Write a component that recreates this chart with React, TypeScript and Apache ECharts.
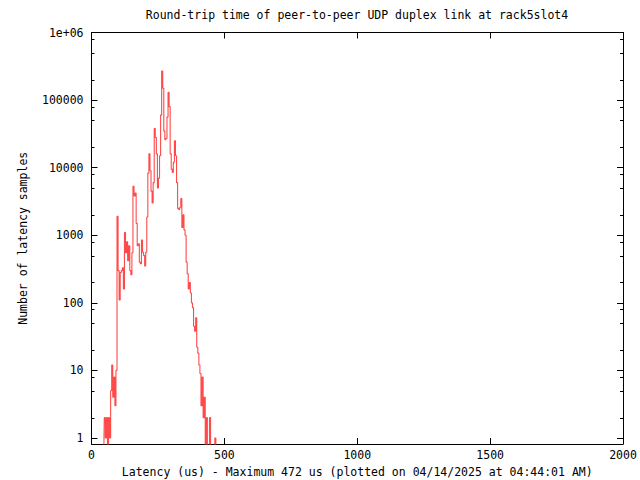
import React, { useEffect, useRef } from "react";
import * as echarts from "echarts";

const TITLE = "Round-trip time of peer-to-peer UDP duplex link at rack5slot4";
const X_NAME = "Latency (us) - Maximum 472 us (plotted on 04/14/2025 at 04:44:01 AM)";
const Y_NAME = "Number of latency samples";

const latencyUs = [
  46, 50, 54, 58, 62, 66, 70, 74, 78, 82, 86, 90, 94, 98, 102, 106, 110, 114, 118, 122,
  126, 130, 134, 138, 142, 146, 150, 154, 158, 162, 166, 170, 174, 178, 182, 186, 190,
  194, 198, 202, 206, 210, 214, 218, 222, 226, 230, 234, 238, 242, 246, 250, 254, 258,
  262, 266, 270, 274, 278, 282, 286, 290, 294, 298, 302, 306, 310, 314, 318, 322, 326,
  330, 334, 338, 342, 346, 350, 354, 358, 362, 366, 370, 374, 378, 382, 386, 390, 394,
  398, 402, 406, 410, 414, 418, 422, 426, 430, 434, 438, 442, 446, 450, 454, 458, 462,
  466, 470,
];

const sampleCounts = [
  0, 2, 1, 2, 0, 2, 1, 5, 12, 4, 8, 3, 10, 1900, 300, 110, 280, 300, 330, 160,
  1100, 550, 800, 420, 700, 300, 260, 550, 5300, 3800, 4200, 1500, 700, 750, 400, 380, 850,
  560, 500, 350, 560, 1860, 8300, 16000, 9000, 4500, 3000, 6000, 38000, 28000, 16000, 5000, 7000, 15000,
  60000, 270000, 150000, 35000, 26000, 27000, 56000, 130000, 80000, 16000, 9500, 8500, 12000, 25000, 15000, 6000, 2500,
  2400, 2600, 3500, 1300, 2000, 1200, 1000, 400, 270, 160, 200, 140, 100, 85, 45, 38, 60,
  22, 18, 12, 9, 3, 8, 2, 4, 0, 2, 0, 0, 2, 0, 0, 0, 0,
  1, 0,
];

const xTicks = [0, 500, 1000, 1500, 2000];
const yMajorTicks = [1, 10, 100, 1000, 10000, 100000, 1000000];
const yMinorTicks = [
  2, 5, 8, 20, 50, 80, 200, 500, 800, 2000, 5000, 8000, 20000, 50000, 80000,
  200000, 500000, 800000,
];

const X_MIN = 0;
const X_MAX = 2000;
const Y_MIN = 0.815;
const Y_MAX = 1000000;
const ZERO_FLOOR = 0.5; // zero bins drawn below the axis floor

const FONT = "'DejaVu Sans Mono', 'Liberation Mono', monospace";
const FS = 11.5;

export default function App() {
  const ref = useRef<HTMLDivElement>(null);

  useEffect(() => {
    if (!ref.current) return;
    const chart = echarts.init(ref.current, undefined, { renderer: "svg" });

    const lineBlack = { show: true, lineStyle: { color: "#000", width: 1 } };

    const mkY = (position: string, labels: boolean, name?: string) => ({
      type: "log",
      position,
      min: Y_MIN,
      max: Y_MAX,
      logBase: 10,
      axisLine: { ...lineBlack, onZero: false },
      splitLine: { show: false },
      minorTick: { show: false },
      axisTick: {
        show: true,
        inside: true,
        length: 6,
        customValues: yMajorTicks,
        lineStyle: { color: "#000", width: 1 },
      },
      axisLabel: labels
        ? {
            show: true,
            customValues: yMajorTicks,
            margin: 8,
            color: "#000",
            fontFamily: FONT,
            fontSize: FS,
            formatter: (v: number) => (v >= 1000000 ? "1e+06" : String(Math.round(v))),
          }
        : { show: false },
      name: name || "",
      nameLocation: "middle",
      nameRotate: 90,
      nameGap: 63,
      nameTextStyle: { color: "#000", fontFamily: FONT, fontSize: FS },
    });

    const mkX = (position: string, labels: boolean, name?: string) => ({
      type: "value",
      position,
      min: X_MIN,
      max: X_MAX,
      interval: 500,
      axisLine: { ...lineBlack, onZero: false },
      splitLine: { show: false },
      axisTick: { show: true, inside: true, length: 6, lineStyle: { color: "#000", width: 1 } },
      axisLabel: labels
        ? {
            show: true,
            margin: 5,
            color: "#000",
            fontFamily: FONT,
            fontSize: FS,
            customValues: xTicks,
            formatter: (v: number) => String(v),
          }
        : { show: false },
      name: name || "",
      nameLocation: "middle",
      nameGap: 22,
      nameTextStyle: { color: "#000", fontFamily: FONT, fontSize: FS },
    });

    const data = latencyUs.map((x, i) => [x, sampleCounts[i] > 0 ? sampleCounts[i] : ZERO_FLOOR]);

    chart.setOption({
      animation: false,
      backgroundColor: "#fff",
      textStyle: { fontFamily: FONT },
      grid: {
        left: 91.5,
        right: 17,
        top: 32.5,
        bottom: 36,
        containLabel: false,
        outerBoundsMode: "none",
      },
      graphic: [
        {
          type: "text",
          x: 357,
          y: 15,
          style: {
            text: TITLE,
            fill: "#000",
            font: `${FS}px ${FONT}`,
            textAlign: "center",
            textVerticalAlign: "middle",
          },
        },
      ],
      xAxis: [mkX("bottom", true, X_NAME), mkX("top", false)],
      yAxis: [mkY("left", true, Y_NAME), mkY("right", false)],
      series: [
        {
          // minor log ticks (2, 5, 8 per decade) on left and right borders
          type: "custom",
          xAxisIndex: 0,
          yAxisIndex: 0,
          silent: true,
          clip: false,
          data: yMinorTicks.map((v) => [v]),
          renderItem: (params: any, api: any) => {
            const v = api.value(0);
            const l = api.coord([X_MIN, v]);
            const r = api.coord([X_MAX, v]);
            const y = Math.round(l[1]) + 0.5;
            return {
              type: "group",
              children: [
                {
                  type: "line",
                  shape: { x1: l[0], y1: y, x2: l[0] + 3, y2: y },
                  style: { stroke: "#000", lineWidth: 1 },
                },
                {
                  type: "line",
                  shape: { x1: r[0], y1: y, x2: r[0] - 3, y2: y },
                  style: { stroke: "#000", lineWidth: 1 },
                },
              ],
            };
          },
        },
        {
          type: "line",
          xAxisIndex: 0,
          yAxisIndex: 0,
          step: "middle",
          showSymbol: false,
          clip: true,
          lineStyle: { color: "#ff4a4a", width: 1.1 },
          data,
        },
      ],
    });

    return () => chart.dispose();
  }, []);

  return (
    <div
      ref={ref}
      style={{ position: "fixed", left: 0, top: 0, width: 640, height: 480, background: "#fff" }}
    />
  );
}
